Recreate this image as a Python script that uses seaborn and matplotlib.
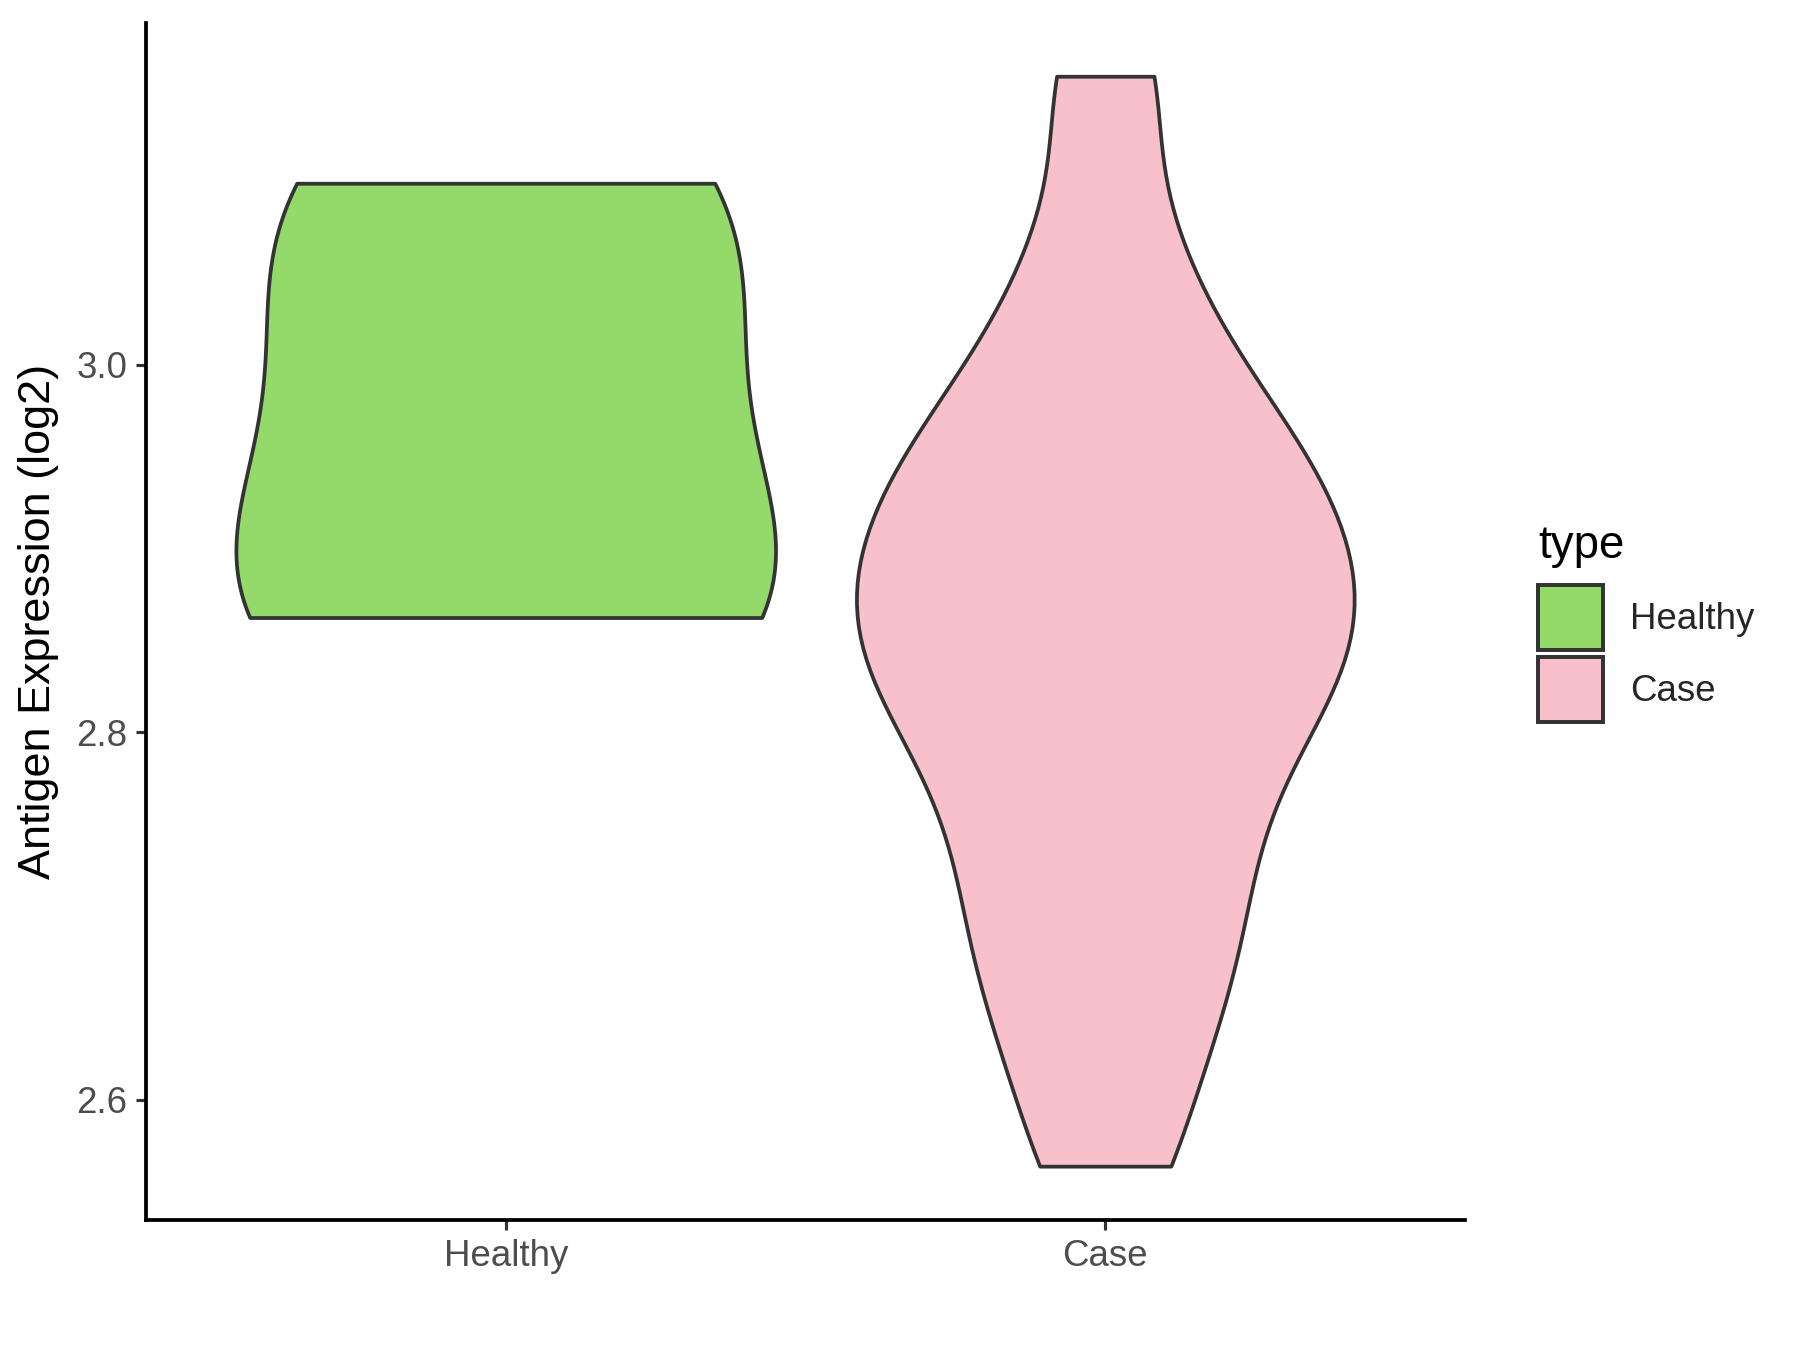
import pandas as pd
import matplotlib.pyplot as plt
import seaborn as sns
from matplotlib.patches import Patch

# values (log2 antigen expression)
healthy_vals = [2.8625, 2.865, 2.868, 2.872, 2.878, 2.882, 2.889, 2.893,
                3.030, 3.052, 3.058, 3.083, 3.087, 3.096, 3.0988]
case_vals = [2.564, 2.627, 2.669, 2.705, 2.740, 2.776, 2.806, 2.826, 2.845,
             2.864, 2.883, 2.903, 2.924, 2.946, 2.971, 3.005, 3.062, 3.157]
groups = ['Healthy', 'Case']
colors = {'Healthy': '#93DA6B', 'Case': '#F7C0CB'}
y_ticks = [2.6, 2.8, 3.0]

df = pd.DataFrame({
    'type': ['Healthy'] * len(healthy_vals) + ['Case'] * len(case_vals),
    'value': healthy_vals + case_vals,
})

sns.set_style('ticks')
plt.rcParams['font.family'] = ['Liberation Sans', 'DejaVu Sans']

fig = plt.figure(figsize=(12, 9), dpi=150)
ax = fig.add_axes([0.0811, 0.0963, 0.7328, 0.8867])

edge = '#333333'
# one call per group so each violin keeps its own width / bandwidth
for name, w, bw in [('Healthy', 0.9, 0.846), ('Case', 0.83, 0.325)]:
    sns.violinplot(data=df[df['type'] == name], x='type', y='value',
                   hue='type', order=groups, hue_order=groups,
                   palette=colors, saturation=1, width=w, cut=0,
                   inner=None, density_norm='width', bw_method=bw,
                   linewidth=1.8, linecolor=edge, legend=False, ax=ax)

ax.set_xlim(-0.6, 1.6)
ax.set_ylim(2.5347, 3.186)
ax.set_yticks(y_ticks)
ax.set_yticklabels([f'{t:.1f}' for t in y_ticks])
ax.set_xlabel('')
ax.set_ylabel('Antigen Expression (log2)', fontsize=21.6, color='black',
              labelpad=8)

sns.despine(ax=ax)
for s in ['left', 'bottom']:
    ax.spines[s].set_linewidth(1.8)
    ax.spines[s].set_color('black')
ax.tick_params(length=5, width=1.5, color=edge, labelcolor='#4D4D4D',
               labelsize=17.6, pad=4)

# legend: title as its own text, keys below it
fig.text(0.8544, 0.587, 'type', fontsize=21.9, color='black',
         ha='left', va='baseline')
handles = [Patch(facecolor=colors[g], edgecolor=edge, linewidth=1.9, label=g)
           for g in groups]
fig.legend(handles=handles, loc='upper left',
           bbox_to_anchor=(0.8544, 0.5667), frameon=False, fontsize=17.6,
           handlelength=1.78, handleheight=2.37, labelspacing=0.17,
           handletextpad=0.74, borderpad=0, borderaxespad=0)

fig.savefig('out.png', dpi=150)
